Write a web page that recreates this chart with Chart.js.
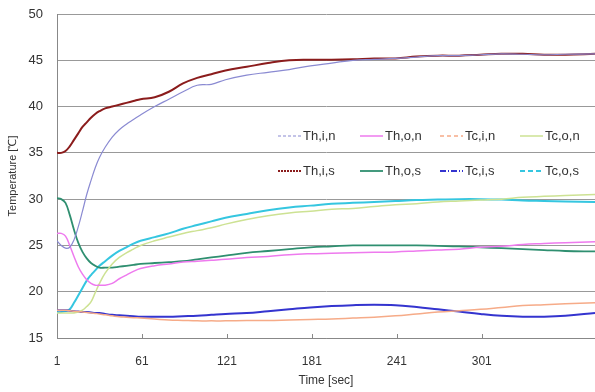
<!DOCTYPE html>
<html lang="ko">
<head>
    <meta charset="UTF-8">
    <title>Temperature</title>
    <script src="https://cdn.jsdelivr.net/npm/chart.js"></script>
    <style>
        html, body { margin: 0; padding: 0; background: #fff; }
        .wrap { width: 595px; height: 392px; position: relative; }
    </style>
</head>
<body>
    <div class="wrap"><canvas id="tempChart"></canvas></div>

    <script>
        // time axis (sec)
        const times = [1,4,7,10,13,16,19,22,25,28,31,35,40,45,50,55,60,70,80,90,100,110,120,135,150,165,180,195,210,225,240,255,270,285,300,315,330,345,360,381];
        const xTickValues = [1, 61, 121, 181, 241, 301];
        const xTickLabels = ['1', '61', '121', '181', '241', '301'];

        const seriesNames = ['Th,i,n', 'Th,o,n', 'Tc,i,n', 'Tc,o,n', 'Th,i,s', 'Th,o,s', 'Tc,i,s', 'Tc,o,s'];

        const thIn = [25.5,25.0,24.7,24.8,25.6,27.0,28.7,30.5,32.0,33.4,34.5,35.6,36.7,37.5,38.1,38.6,39.1,40.0,40.8,41.6,42.3,42.4,42.9,43.4,43.7,44.0,44.4,44.7,45.0,45.1,45.2,45.35,45.5,45.5,45.6,45.7,45.65,45.6,45.65,45.7];
        const thOn = [26.3,26.3,26.0,25.0,23.8,22.7,21.9,21.3,20.9,20.7,20.7,20.7,20.9,21.4,21.8,22.2,22.5,22.8,23.0,23.2,23.3,23.4,23.5,23.7,23.8,24.0,24.1,24.15,24.2,24.25,24.3,24.4,24.5,24.6,24.8,24.9,25.1,25.2,25.3,25.4];
        const tcIn = [18.0,18.0,18.0,17.95,17.9,17.85,17.8,17.75,17.7,17.65,17.6,17.5,17.4,17.3,17.25,17.2,17.15,17.05,16.95,16.9,16.85,16.85,16.85,16.9,16.9,16.95,17.0,17.05,17.15,17.25,17.4,17.6,17.8,17.95,18.1,18.3,18.5,18.6,18.7,18.8];
        const tcOn = [17.7,17.7,17.7,17.7,17.7,17.8,18.0,18.4,18.9,19.9,20.9,22.0,23.0,23.7,24.2,24.6,25.0,25.5,25.9,26.3,26.6,26.9,27.3,27.8,28.2,28.5,28.7,28.9,29.0,29.2,29.4,29.5,29.7,29.8,29.9,30.0,30.2,30.3,30.4,30.5];
        const thIs = [35.0,35.0,35.2,35.7,36.4,37.1,37.8,38.3,38.8,39.2,39.5,39.8,40.0,40.2,40.4,40.6,40.8,41.0,41.6,42.5,43.1,43.5,43.9,44.3,44.7,45.0,45.05,45.05,45.1,45.2,45.2,45.4,45.5,45.5,45.6,45.7,45.7,45.6,45.6,45.7];
        const thOs = [30.1,30.0,29.6,28.3,26.7,25.3,24.3,23.6,23.1,22.8,22.6,22.6,22.6,22.7,22.8,22.9,23.0,23.1,23.2,23.3,23.5,23.7,23.9,24.2,24.4,24.6,24.8,24.9,25.0,25.0,25.0,25.0,24.95,24.9,24.8,24.7,24.6,24.5,24.4,24.35];
        const tcIs = [18.0,18.0,18.0,17.95,17.9,17.85,17.8,17.8,17.75,17.7,17.7,17.6,17.5,17.45,17.4,17.35,17.3,17.3,17.3,17.35,17.4,17.5,17.6,17.7,17.9,18.1,18.3,18.45,18.55,18.6,18.55,18.35,18.1,17.85,17.6,17.4,17.3,17.3,17.4,17.7];
        const tcOs = [17.8,17.8,17.9,18.1,18.8,19.6,20.4,21.2,21.8,22.3,22.8,23.3,23.9,24.4,24.8,25.2,25.5,25.9,26.3,26.8,27.2,27.6,28.0,28.4,28.8,29.1,29.3,29.5,29.6,29.7,29.8,29.9,29.95,30.0,30.0,29.95,29.85,29.8,29.75,29.7];

        const seriesValues = [thIn, thOn, tcIn, tcOn, thIs, thOs, tcIs, tcOs];
        const seriesColors = ['#8a8ad2', '#ee7aee', '#f6ab88', '#cde293', '#8b1c1c', '#2f8f70', '#3434cf', '#35c6e0'];
        const seriesWidths = [1.2, 1.5, 1.5, 1.5, 2, 1.8, 2, 2];
        const legendDashes = [[3, 2], [], [4, 3], [], [2, 1], [], [6, 2, 1, 2], [5, 3]];

        const datasets = seriesNames.map((name, i) => ({
            label: name,
            data: times.map((t, j) => ({ x: t, y: seriesValues[i][j] })),
            borderColor: seriesColors[i],
            borderWidth: seriesWidths[i],
            legendDash: legendDashes[i],
            pointRadius: 0,
            tension: 0.4,
            fill: false
        }));

        // legend inside the plot + small x tick marks
        const innerLegend = {
            id: 'innerLegend',
            afterDatasetsDraw(chart) {
                const ctx = chart.ctx;
                const area = chart.chartArea;
                const xs = chart.scales.x;
                ctx.save();
                ctx.strokeStyle = '#888';
                ctx.lineWidth = 1;
                xTickValues.forEach(v => {
                    const px = Math.round(xs.getPixelForValue(v)) + 0.5;
                    ctx.beginPath();
                    ctx.moveTo(px, area.bottom);
                    ctx.lineTo(px, area.bottom - 4);
                    ctx.stroke();
                });

                const colX = [278, 360, 440, 520];
                const rowY = [136, 171];
                ctx.font = '13px "Liberation Sans", Arial, sans-serif';
                ctx.textBaseline = 'middle';
                chart.data.datasets.forEach((ds, i) => {
                    const x = colX[i % 4];
                    const y = rowY[Math.floor(i / 4)];
                    ctx.strokeStyle = ds.borderColor;
                    ctx.lineWidth = ds.borderWidth;
                    ctx.setLineDash(ds.legendDash);
                    ctx.beginPath();
                    ctx.moveTo(x, y);
                    ctx.lineTo(x + 23, y);
                    ctx.stroke();
                    ctx.setLineDash([]);
                    ctx.fillStyle = '#333';
                    ctx.fillText(ds.label, x + 25, y);
                });
                ctx.restore();
            }
        };

        const ctx = document.getElementById('tempChart').getContext('2d');
        new Chart(ctx, {
            type: 'line',
            data: { datasets: datasets },
            options: {
                responsive: true,
                maintainAspectRatio: false,
                animation: false,
                layout: { padding: { top: 14, right: 0, left: 2, bottom: 0 } },
                plugins: {
                    legend: { display: false },
                    tooltip: { enabled: false }
                },
                scales: {
                    x: {
                        type: 'linear',
                        min: 1,
                        max: 381,
                        afterBuildTicks: (scale) => {
                            scale.ticks = xTickValues.map(v => ({ value: v }));
                        },
                        afterFit: (scale) => {
                            scale.height = 54;
                            scale.paddingLeft = 0;
                            scale.paddingRight = 0;
                        },
                        grid: { display: false },
                        border: { color: '#888', width: 1 },
                        ticks: {
                            color: '#333',
                            font: { size: 12, family: '"Liberation Sans", Arial, sans-serif' },
                            maxRotation: 0,
                            padding: 8,
                            callback: (v) => xTickLabels[xTickValues.indexOf(v)]
                        },
                        title: {
                            display: true,
                            text: 'Time [sec]',
                            color: '#333',
                            font: { size: 12, family: '"Liberation Sans", Arial, sans-serif' },
                            padding: { top: 4 }
                        }
                    },
                    y: {
                        min: 15,
                        max: 50,
                        afterFit: (scale) => {
                            scale.width = 55;
                            scale.paddingTop = 0;
                            scale.paddingBottom = 0;
                        },
                        grid: { color: '#999', drawTicks: false, lineWidth: 1 },
                        border: { color: '#888', width: 1 },
                        ticks: {
                            stepSize: 5,
                            color: '#333',
                            padding: 14,
                            font: { size: 13, family: '"Liberation Sans", Arial, sans-serif' }
                        },
                        title: {
                            display: true,
                            text: 'Temperature [℃]',
                            color: '#333',
                            font: { size: 11, family: '"Liberation Sans", Arial, sans-serif' },
                            padding: { bottom: 2 }
                        }
                    }
                }
            },
            plugins: [innerLegend]
        });
    </script>
</body>
</html>
